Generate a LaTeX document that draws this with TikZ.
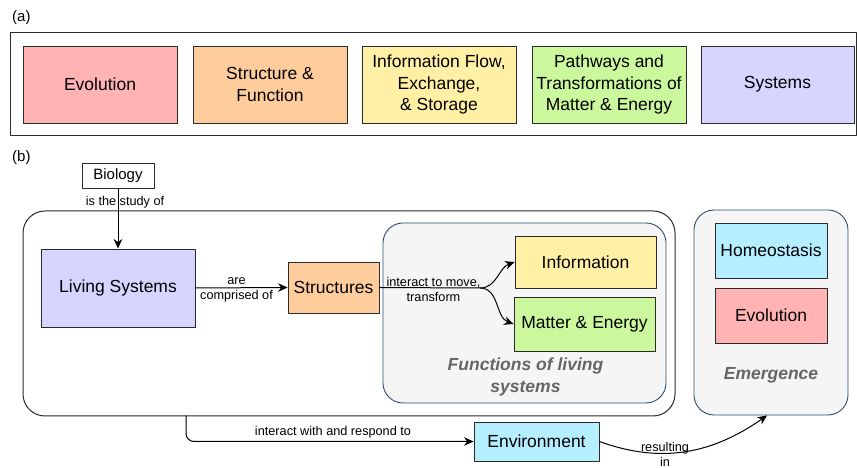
\documentclass[tikz,border=0pt]{standalone}
\usepackage{fontspec}
\setmainfont{Liberation Sans}
\usetikzlibrary{arrows.meta,calc,positioning}
\definecolor{bxInk}{HTML}{2A2A2A}
\definecolor{bxRed}{HTML}{FFB3B3}
\definecolor{bxOrange}{HTML}{FFCC9C}
\definecolor{bxYellow}{HTML}{FFF0A5}
\definecolor{bxGreen}{HTML}{CBF89C}
\definecolor{bxPurple}{HTML}{D6D5FF}
\definecolor{bxCyan}{HTML}{B4EEFF}
\definecolor{bxPanel}{HTML}{F5F5F5}
\definecolor{bxEdge}{HTML}{2F4B6B}
\definecolor{bxGray}{HTML}{666666}
\tikzset{
 bio/.style={line cap=round,line join=round,text=black},
 theme/.style={rectangle,draw=bxInk,line width=.9pt,inner sep=2pt,align=center,
   minimum width=154pt,minimum height=77pt,font=\fontsize{17.5}{21.5}\selectfont},
 concept/.style={rectangle,draw=bxInk,line width=.9pt,inner sep=2pt,align=center,
   font=\fontsize{17.5}{21}\selectfont},
 frame/.style={rectangle,draw=bxInk,line width=1pt},
 panel/.style={rectangle,draw=bxEdge,fill=bxPanel,line width=.9pt,rounded corners=20pt},
 link/.style={draw=black,line width=1pt,-{Stealth[length=9.5pt,width=8.5pt]}},
 wire/.style={draw=black,line width=1pt},
 tag/.style={font=\fontsize{15}{18}\selectfont,anchor=west,inner sep=0pt},
 say/.style={font=\fontsize{12.7}{15}\selectfont,align=center,inner sep=0pt},
 paneltitle/.style={font=\fontsize{17.5}{22}\selectfont\bfseries\itshape,text=bxGray,align=center,inner sep=0pt}
}

\begin{document}
\begin{tikzpicture}[bio,x=1pt,y=1pt]
 \useasboundingbox (0,0) rectangle (857,468);
 % (a) the five themes
 \node[tag] (tagA) at (12,450) {(a)};
 \draw[frame] (10,332) rectangle (856,435);
 \node[theme,fill=bxRed] (evoA) at (100,383.5) {Evolution};
 \node[theme,fill=bxOrange] (strA) at (270,383.5) {Structure \&\\Function};
 \node[theme,fill=bxYellow] (infA) at (439,383.5) {Information Flow,\\Exchange,\\\& Storage};
 \node[theme,fill=bxGreen] (patA) at (609,383.5) {Pathways and\\Transformations of\\Matter \& Energy};
 \node[theme,fill=bxPurple,minimum width=153pt] (sysA) at (777.5,383.5) {Systems};

 % (b) concept map
 \node[tag] (tagB) at (12,310) {(b)};
 \node[frame,rounded corners=22pt,minimum width=652pt,minimum height=205pt] (life) at (349,154.5) {};
 \node[panel,minimum width=283pt,minimum height=180pt] (funcs) at (524.5,155) {};
 \node[panel,minimum width=154pt,minimum height=205pt] (emerg) at (771,155.5) {};

 \node[concept,font=\fontsize{15}{18}\selectfont,minimum width=72pt,minimum height=25pt] (bio) at (118,292) {Biology};
 \node[concept,fill=bxPurple,minimum width=154pt,minimum height=78pt] (living) at (118,180) {Living Systems};
 \node[concept,fill=bxOrange,minimum width=91pt,minimum height=51pt] (struct) at (333.5,180.5) {Structures};
 \node[concept,fill=bxYellow,minimum width=141pt,minimum height=52pt] (info) at (585.5,206) {Information};
 \node[concept,fill=bxGreen,minimum width=141pt,minimum height=54pt] (matter) at (584.5,144) {Matter \& Energy};
 \node[concept,fill=bxCyan,minimum width=112pt,minimum height=55pt] (homeo) at (771,217.5) {Homeostasis};
 \node[concept,fill=bxRed,minimum width=112pt,minimum height=55pt] (evoB) at (771,152.5) {Evolution};
 \node[concept,fill=bxCyan,minimum width=125pt,minimum height=39pt] (env) at (536.5,26.5) {Environment};

 \node[paneltitle] (functitle) at (525.5,91) {Functions of living\\systems};
 \node[paneltitle] (emergtitle) at (771,93) {Emergence};

 % connectors
 \draw[link] (bio.south) -- (living.north);
 \node[say] (studyof) at (125,266) {is the study of};
 \draw[link] (living.east) -- (struct.west);
 \node[say] (comprised) at (236.5,178.5) {are\\comprised of};
 \coordinate (split) at (480,180);
 \draw[wire] (struct.east) -- (split);
 \draw[link] (split) to[out=0,in=200] (info.west);
 \draw[link] (split) to[out=0,in=160] (matter.west);
 \node[say] (moveit) at (433.5,178.5) {interact to move,\\transform};
 \coordinate (tap) at (186,52);
 \draw[link,rounded corners=8pt] (tap) |- (env.west);
 \node[say] (respond) at (333,36) {interact with and respond to};
 \draw[link] (env.east) to[out=-20,in=215] ($(emerg.south)+(-4,0)$);
 \node[say] (result) at (665,14) {resulting\\in};
\end{tikzpicture}
\end{document}
